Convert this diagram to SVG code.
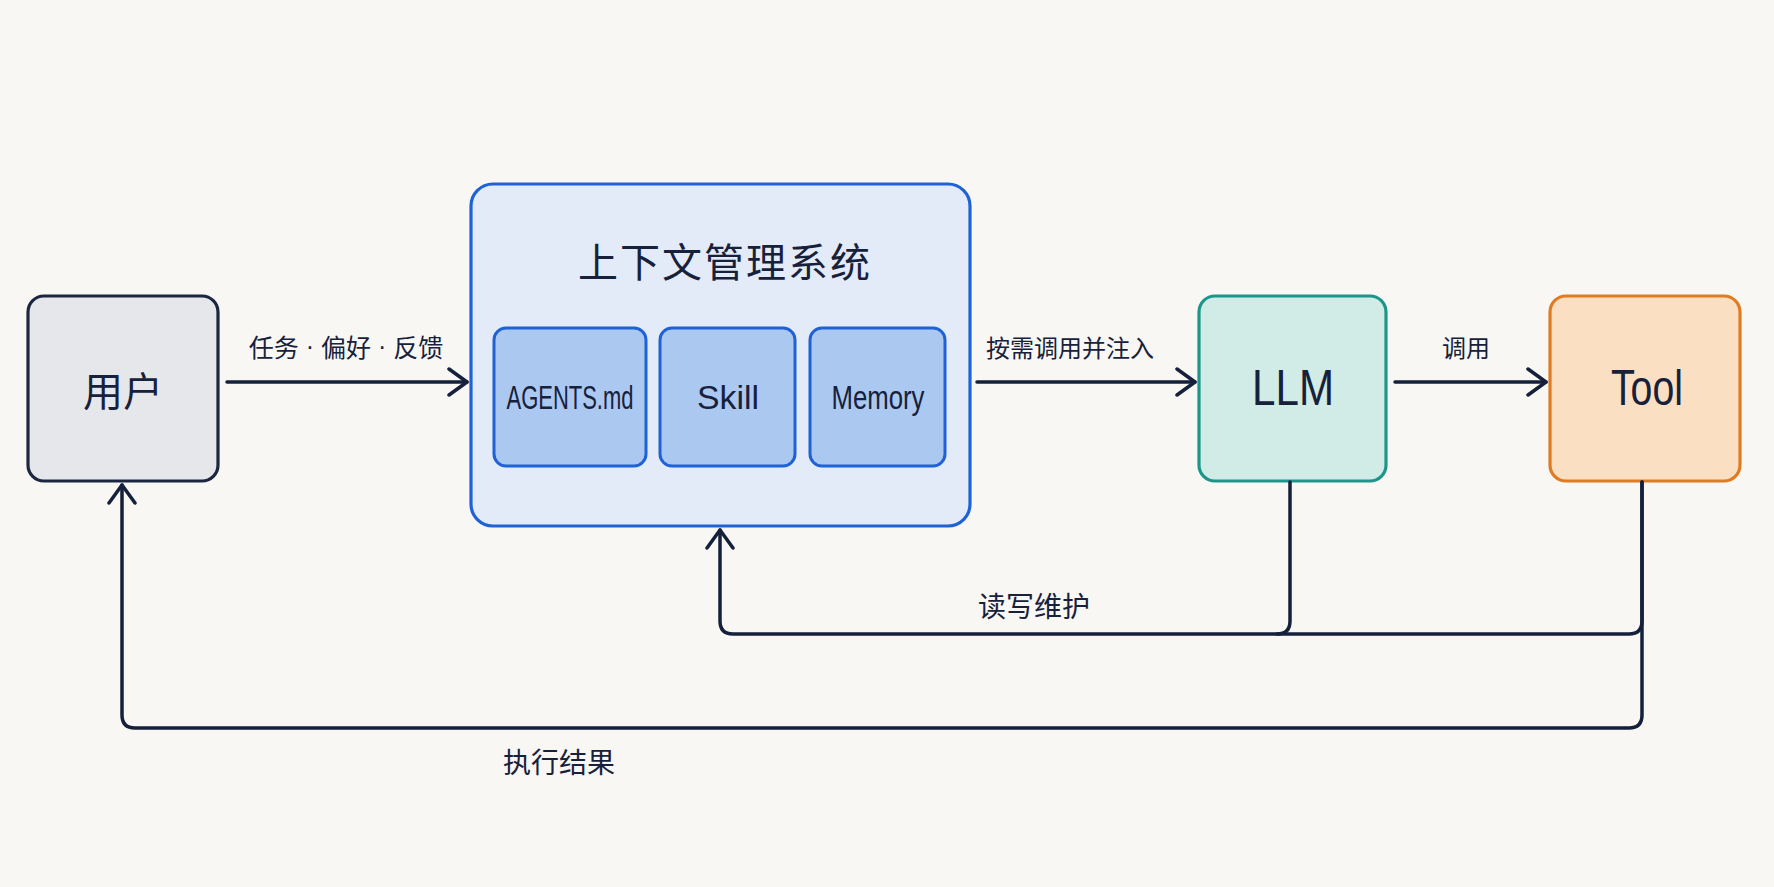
<svg xmlns="http://www.w3.org/2000/svg" width="1774" height="887" viewBox="0 0 1774 887">
<defs>
<style>
.cjk{font-family:"Noto Sans CJK SC","Liberation Sans",sans-serif;fill:#17213b;text-anchor:middle;dominant-baseline:central}
.lat{font-family:"Liberation Sans","Noto Sans",sans-serif;fill:#17213b;text-anchor:middle;dominant-baseline:central}
.dot{font-family:"Liberation Sans",sans-serif}
.conn{fill:none;stroke:#15203b;stroke-width:3.5;stroke-linecap:round;stroke-linejoin:round}
.inner{fill:#abc8f0;stroke:#1f62d6;stroke-width:3}
</style>
<marker id="arr" markerUnits="userSpaceOnUse" markerWidth="24" markerHeight="30" viewBox="0 0 24 30" refX="21" refY="15" orient="auto">
<path d="M3,2 L21,15 L3,28" fill="none" stroke="#15203b" stroke-width="3.5" stroke-linecap="round" stroke-linejoin="round"/>
</marker>
</defs>
<rect x="0" y="0" width="1774" height="887" fill="#f9f7f4"/>

<g id="user">
<rect x="28" y="296" width="190" height="185" rx="16" fill="#e6e7ea" stroke="#1c2640" stroke-width="3.2"/>
<text class="cjk" x="123" y="389" font-size="40">用户</text>
</g>

<g id="context">
<rect x="471" y="184" width="499" height="342" rx="22" fill="#e3ebf8" stroke="#1f62d6" stroke-width="3.2"/>
<text class="cjk" x="725" y="260" font-size="40" letter-spacing="2">上下文管理系统</text>
<g id="agents">
<rect class="inner" x="494" y="328" width="152" height="138" rx="12"/>
<text class="lat" x="570" y="397" font-size="34" textLength="127" lengthAdjust="spacingAndGlyphs">AGENTS.md</text>
</g>
<g id="skill">
<rect class="inner" x="660" y="328" width="135" height="138" rx="12"/>
<text class="lat" x="728" y="397" font-size="34" textLength="62" lengthAdjust="spacingAndGlyphs">Skill</text>
</g>
<g id="memory">
<rect class="inner" x="810" y="328" width="135" height="138" rx="12"/>
<text class="lat" x="878" y="397" font-size="34" textLength="93" lengthAdjust="spacingAndGlyphs">Memory</text>
</g>
</g>

<g id="llm">
<rect x="1199" y="296" width="187" height="185" rx="16" fill="#d1ebe6" stroke="#1c968a" stroke-width="3.2"/>
<text class="lat" x="1293" y="388" font-size="50" textLength="82" lengthAdjust="spacingAndGlyphs">LLM</text>
</g>

<g id="tool">
<rect x="1550" y="296" width="190" height="185" rx="16" fill="#fbdfc3" stroke="#e07b22" stroke-width="3.2"/>
<text class="lat" x="1647" y="388" font-size="50" textLength="72" lengthAdjust="spacingAndGlyphs">Tool</text>
</g>

<g id="connectors">
<path class="conn" d="M227,382 H467" marker-end="url(#arr)"/>
<path class="conn" d="M977,382 H1195" marker-end="url(#arr)"/>
<path class="conn" d="M1395,382 H1546" marker-end="url(#arr)"/>
<path class="conn" d="M1642,482 V621 Q1642,634 1629,634 H733 Q720,634 720,621 V530" marker-end="url(#arr)"/>
<path class="conn" d="M1290,482 V621 Q1290,634 1277,634"/>
<path class="conn" d="M1642,482 V715 Q1642,728 1629,728 H135 Q122,728 122,715 V485" marker-end="url(#arr)"/>
<text class="cjk" x="346" y="346" font-size="25">任务<tspan class="dot"> · </tspan>偏好<tspan class="dot"> · </tspan>反馈</text>
<text class="cjk" x="1070" y="346" font-size="24">按需调用并注入</text>
<text class="cjk" x="1466" y="346" font-size="24">调用</text>
<text class="cjk" x="1034" y="605" font-size="28">读写维护</text>
<text class="cjk" x="559" y="761" font-size="28">执行结果</text>
</g>
</svg>
